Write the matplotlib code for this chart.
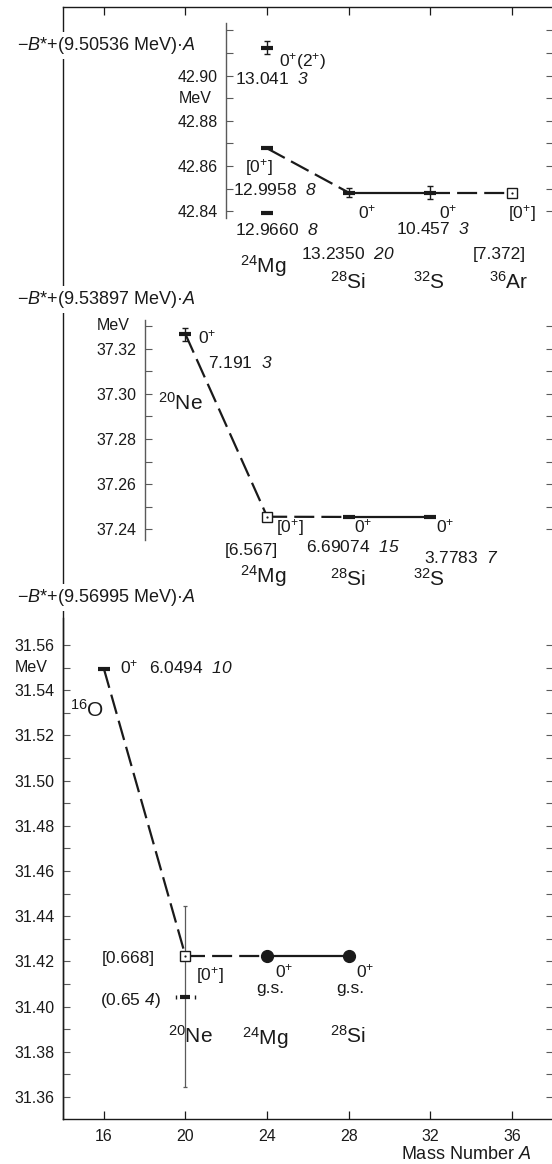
import numpy as np
import matplotlib
matplotlib.use("Agg")
import matplotlib.pyplot as plt
from matplotlib.ticker import FixedLocator, FixedFormatter

plt.rcParams["font.family"] = ["Liberation Sans", "DejaVu Sans"]
plt.rcParams["mathtext.fontset"] = "custom"
plt.rcParams["mathtext.rm"] = "Liberation Sans"
plt.rcParams["mathtext.it"] = "Liberation Sans:italic"
# italic digits: mathtext renders non-letters in \mathit upright, so borrow sf
plt.rcParams["mathtext.sf"] = "Liberation Sans:italic"
plt.rcParams["mathtext.default"] = "regular"

INK = "#1a1a1a"
GREY = "#5a5a5a"
DASH = (0, (9, 3.2))
TICK_FS, NUM_FS, NUC_FS, OUTER_FS = 11.5, 12.5, 15, 13

# figure geometry (px); all three panels share one MeV scale
FIG_W, FIG_H = 552, 1164
PX_LEFT, PX_RIGHT = 63, 553
PX_TOP, PX_BOTTOM = 7, 1119
PX_PER_MEV = 2260.0
XLIM = (14, 38)
MASS_TICKS = [16, 20, 24, 28, 32, 36]

# ---- top panel: -B* + (9.50536 MeV) A ----
top_A = [24, 28, 32, 36]
top_E = [42.8678, 42.8482, 42.8482, 42.8482]
top_err = [0.0008, 0.0020, 0.0030, 0.0]
top_kind = ["bar", "plus", "plus", "square"]
top_links = ["dash", "solid", "dash"]
top_side_A = [24, 24]
top_side_E = [42.9124, 42.8391]
top_side_err = [0.0030, 0.0008]
top_side_kind = ["plus", "bar"]
top_labels = [
    (24.58, 42.9043, r"0$^{+}$(2$^{+}$)", NUM_FS),
    (22.42, 42.8963, r"13.041  $\mathsf{3}$", NUM_FS),
    (22.91, 42.8574, r"[0$^{+}$]", NUM_FS),
    (22.33, 42.8472, r"12.9958  $\mathsf{8}$", NUM_FS),
    (22.42, 42.8295, r"12.9660  $\mathsf{8}$", NUM_FS),
    (28.45, 42.8370, r"0$^{+}$", NUM_FS),
    (25.66, 42.8189, r"13.2350  $\mathsf{20}$", NUM_FS),
    (32.41, 42.8370, r"0$^{+}$", NUM_FS),
    (30.31, 42.8299, r"10.457  $\mathsf{3}$", NUM_FS),
    (35.79, 42.8370, r"[0$^{+}$]", NUM_FS),
    (34.08, 42.8189, r"[7.372]", NUM_FS),
    (22.67, 42.8127, r"$^{24}$Mg", NUC_FS),
    (27.10, 42.8056, r"$^{28}$Si", NUC_FS),
    (31.12, 42.8056, r"$^{32}$S", NUC_FS),
    (34.86, 42.8056, r"$^{36}$Ar", NUC_FS),
]

# ---- middle panel: -B* + (9.53897 MeV) A ----
mid_A = [20, 24, 28, 32]
mid_E = [37.3263, 37.2456, 37.2455, 37.2455]
mid_err = [0.0030, 0.0, 0.00015, 0.0007]
mid_kind = ["plus", "square", "bar", "bar"]
mid_links = ["dash", "dash", "solid"]
mid_labels = [
    (20.61, 37.3225, r"0$^{+}$", NUM_FS),
    (21.10, 37.3114, r"7.191  $\mathsf{3}$", NUM_FS),
    (18.65, 37.2928, r"$^{20}$Ne", NUC_FS),
    (24.43, 37.2388, r"[0$^{+}$]", NUM_FS),
    (28.25, 37.2388, r"0$^{+}$", NUM_FS),
    (32.27, 37.2388, r"0$^{+}$", NUM_FS),
    (21.93, 37.2287, r"[6.567]", NUM_FS),
    (25.90, 37.2300, r"6.69074  $\mathsf{15}$", NUM_FS),
    (31.68, 37.2251, r"3.7783  $\mathsf{7}$", NUM_FS),
    (22.67, 37.2163, r"$^{24}$Mg", NUC_FS),
    (27.08, 37.2150, r"$^{28}$Si", NUC_FS),
    (31.14, 37.2150, r"$^{32}$S", NUC_FS),
]

# ---- bottom panel: -B* + (9.56995 MeV) A ----
bot_A = [16, 20, 24, 28]
bot_E = [31.5496, 31.4224, 31.4224, 31.4224]
bot_err = [0.0010, 0.0, 0.0, 0.0]
bot_kind = ["bar", "square", "dot", "dot"]
bot_links = ["dash", "dash", "solid"]
bot_side_A = [20]
bot_side_E = [31.4044]
bot_side_err = [0.04]
bot_side_kind = ["paren"]
bot_labels = [
    (16.79, 31.5476, r"0$^{+}$", NUM_FS),
    (18.21, 31.5476, r"6.0494  $\mathsf{10}$", NUM_FS),
    (14.34, 31.5282, r"$^{16}$O", NUC_FS),
    (20.51, 31.4118, r"[0$^{+}$]", NUM_FS),
    (15.81, 31.4007, r"(0.65 $\mathsf{4}$)", NUM_FS),
    (19.14, 31.3839, r"$^{20}$Ne", NUC_FS),
    (24.38, 31.4131, r"0$^{+}$", NUM_FS),
    (28.35, 31.4131, r"0$^{+}$", NUM_FS),
    (23.45, 31.4061, "g.s.", NUM_FS),
    (27.37, 31.4061, "g.s.", NUM_FS),
    (22.77, 31.3830, r"$^{24}$Mg", NUC_FS),
    (27.08, 31.3839, r"$^{28}$Si", NUC_FS),
]
bot_right_labels = [(18.5, 31.4193, "[0.668]", NUM_FS)]

OFFSETS = ["9.50536", "9.53897", "9.56995"]


def px_axes(fig, px_top, px_bottom):
    return fig.add_axes([PX_LEFT / FIG_W, 1 - px_bottom / FIG_H,
                         (PX_RIGHT - PX_LEFT) / FIG_W, (px_bottom - px_top) / FIG_H])


def make_panel(fig, ylim, px_bottom, spine_x, ticks, labeled, unit_at):
    px_top = px_bottom - (ylim[1] - ylim[0]) * PX_PER_MEV
    ax = px_axes(fig, px_top, px_bottom)
    ax.set_xlim(XLIM); ax.set_ylim(ylim)
    ax.patch.set_visible(False)
    for side in ("top", "bottom", "right"):
        ax.spines[side].set_visible(False)
    ax.spines["left"].set_position(("data", spine_x))
    ax.spines["left"].set_color(GREY)
    ax.spines["left"].set_linewidth(1.0)
    ax.set_xticks([])
    ax.yaxis.set_major_locator(FixedLocator(ticks))
    labs = [f"{t:.2f}" if np.any(np.isclose(t, labeled)) else "" for t in ticks]
    ax.yaxis.set_major_formatter(FixedFormatter(labs))
    ax.tick_params(axis="y", left=True, right=True, direction="in", length=5,
                   width=0.8, color=GREY, labelsize=TICK_FS, labelcolor=INK, pad=6)
    ax.annotate("MeV", xy=(spine_x, unit_at), xytext=(-34.5, 0),
                textcoords="offset points", ha="left", va="center",
                fontsize=TICK_FS, color=INK)
    return ax


def draw_point(ax, a, e, de, kind):
    if kind in ("bar", "plus"):
        ax.plot([a], [e], marker="_", ms=9, mew=3.0, color=INK, zorder=4)
    if kind == "plus" and de > 0:
        ax.errorbar([a], [e], yerr=[de], fmt="none", ecolor=INK, elinewidth=1.0,
                    capsize=2, capthick=1.0, zorder=4)
    if kind == "paren":
        ax.plot([a], [e], marker="_", ms=6.5, mew=3.0, color=INK, zorder=4)
        ax.errorbar([a], [e], yerr=[de], fmt="none", ecolor=GREY, elinewidth=0.9,
                    capsize=1.5, capthick=0.9, zorder=3)
        # only the little end marks of a horizontal bracket
        eb = ax.errorbar([a], [e], xerr=[0.47], fmt="none", ecolor=INK,
                         capsize=1.5, capthick=1.0, zorder=4)
        for col in eb[2]:
            col.set_visible(False)
    if kind == "square":
        ax.plot([a], [e], marker="s", ms=7.2, mfc="white", mec=INK, mew=1.0, zorder=5)
        ax.plot([a], [e], marker="o", ms=1.6, color=INK, mew=0, zorder=6)
    if kind == "dot":
        ax.plot([a], [e], marker="o", ms=8.5, color=INK, zorder=5)


def draw_chain(ax, A, E, err, kind, links):
    for i, style in enumerate(links):
        ls = "-" if style == "solid" else DASH
        ax.plot(A[i:i + 2], E[i:i + 2], ls=ls, color=INK, lw=1.6,
                solid_capstyle="butt", dash_capstyle="butt", zorder=2)
    for a, e, de, k in zip(A, E, err, kind):
        draw_point(ax, a, e, de, k)


def draw_labels(ax, labels, ha="left"):
    for x, y, s, fs in labels:
        ax.text(x, y, s, ha=ha, va="baseline", fontsize=fs, color=INK)


fig = plt.figure(figsize=(FIG_W / 100, FIG_H / 100), dpi=100)

# outer frame
frame = px_axes(fig, PX_TOP, PX_BOTTOM)
frame.set_xlim(XLIM); frame.set_ylim(0, 1)
frame.spines["right"].set_visible(False)
for side in ("left", "top", "bottom"):
    frame.spines[side].set_linewidth(1.0)
    frame.spines[side].set_color(INK)
frame.set_xticks(MASS_TICKS)
frame.set_yticks([])
frame.tick_params(axis="x", top=True, bottom=True, direction="in", length=6,
                  width=0.9, color=INK, labelsize=TICK_FS, labelcolor=INK, pad=7)
frame.annotate(r"Mass Number $\mathit{A}$", xy=(36.92, -0.036),
               xycoords=("data", "axes fraction"), ha="right", va="baseline",
               fontsize=OUTER_FS, color=INK)
for off, yf in zip(OFFSETS, [0.9613, 0.7329, 0.4649]):
    frame.annotate(r"$-\mathit{B}$*+(" + off + r" MeV)·$\mathit{A}$", xy=(11.75, yf),
                   xycoords=("data", "axes fraction"), ha="left", va="baseline",
                   fontsize=OUTER_FS, color=INK, zorder=6,
                   bbox=dict(facecolor="white", edgecolor="none", pad=2.5),
                   annotation_clip=False)

# top panel
ax1 = make_panel(fig, (42.8370, 42.9235), 218, 22,
                 np.round(np.arange(42.84, 42.925, 0.01), 2),
                 [42.84, 42.86, 42.88, 42.90], 42.89)
draw_chain(ax1, top_A, top_E, top_err, top_kind, top_links)
for a, e, de, k in zip(top_side_A, top_side_E, top_side_err, top_side_kind):
    draw_point(ax1, a, e, de, k)
draw_labels(ax1, top_labels)

# middle panel
ax2 = make_panel(fig, (37.2353, 37.3327), 540, 18,
                 np.round(np.arange(37.24, 37.335, 0.01), 2),
                 [37.24, 37.26, 37.28, 37.30, 37.32], 37.33)
draw_chain(ax2, mid_A, mid_E, mid_err, mid_kind, mid_links)
draw_labels(ax2, mid_labels)

# bottom panel
ax3 = make_panel(fig, (31.3503, 31.5720), 1119, 14,
                 np.round(np.arange(31.36, 31.565, 0.01), 2),
                 np.round(np.arange(31.36, 31.565, 0.02), 2), 31.55)
ax3.spines["left"].set_color(INK)
draw_chain(ax3, bot_A, bot_E, bot_err, bot_kind, bot_links)
for a, e, de, k in zip(bot_side_A, bot_side_E, bot_side_err, bot_side_kind):
    draw_point(ax3, a, e, de, k)
draw_labels(ax3, bot_labels)
draw_labels(ax3, bot_right_labels, ha="right")

fig.savefig("out.png", dpi=100)
